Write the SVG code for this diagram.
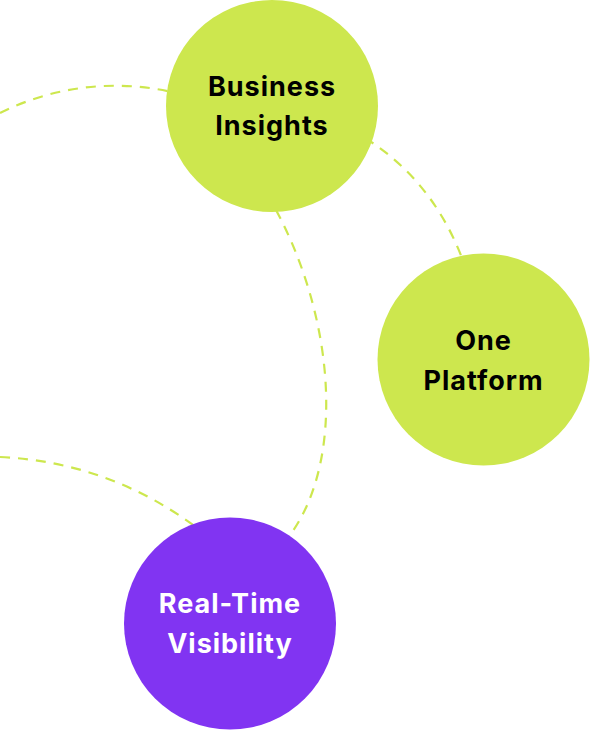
<svg xmlns="http://www.w3.org/2000/svg" width="590" height="731" viewBox="0 0 590 731">
<style>
.dash{fill:none;stroke:#CDE74E;stroke-width:2.2;stroke-dasharray:10 8}
.green{fill:#CDE74E}
.purple{fill:#8134F2}
.lbl{font-family:Inter,"Noto Sans",sans-serif;font-weight:700;font-size:27px;letter-spacing:1px;text-anchor:middle}
.dark{fill:#000}
.light{fill:#fff}
</style>
<rect width="590" height="731" fill="#fff"/>
<g id="connectors">
<path class="dash" d="M0,113 A258,258 0 0 1 200,100"/>
<path class="dash" d="M365,138 Q432,180 462,258"/>
<path class="dash" d="M276,210 C335,320 345,460 290,535"/>
<path class="dash" d="M0,457 Q110,462 200,530"/>
</g>
<g id="business-insights">
<circle class="green" cx="272" cy="106" r="106"/>
<text class="lbl dark" x="272" y="96">Business</text>
<text class="lbl dark" x="272" y="135">Insights</text>
</g>
<g id="one-platform">
<circle class="green" cx="483.5" cy="359.5" r="106"/>
<text class="lbl dark" x="483.5" y="350">One</text>
<text class="lbl dark" x="483.5" y="390">Platform</text>
</g>
<g id="real-time-visibility">
<circle class="purple" cx="230" cy="623.5" r="106"/>
<text class="lbl light" x="230" y="613">Real-Time</text>
<text class="lbl light" x="230" y="653">Visibility</text>
</g>
</svg>
